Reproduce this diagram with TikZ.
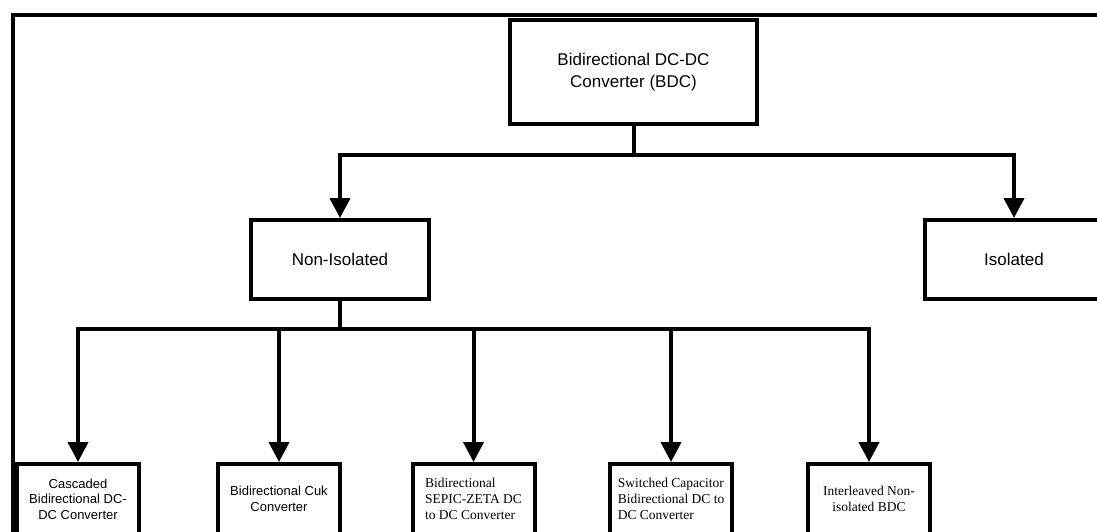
\documentclass[tikz,border=0pt]{standalone}
\usepackage{fontspec}
\setmainfont{Liberation Serif}
\setsansfont{Liberation Sans}
\usetikzlibrary{arrows.meta}

\tikzset{
  box/.style={draw,line width=4pt,inner sep=0pt,align=center,fill=white},
  bigbox/.style={box,minimum width=178pt,minimum height=79pt,font=\sffamily\fontsize{17}{22}\selectfont},
  smallbox/.style={box,minimum width=122pt,minimum height=70pt},
  sanstext/.style={font=\sffamily\fontsize{13}{15.5}\selectfont},
  seriftext/.style={font=\rmfamily\fontsize{13.5}{16}\selectfont,align=left},
  link/.style={line width=4pt},
  arr/.style={link,-{Triangle[width=20pt,length=20pt]}}
}

\begin{document}
\begin{tikzpicture}[x=1pt,y=-1pt]
    \useasboundingbox (0,0) rectangle (1097,531);
    \clip (0,0) rectangle (1097,531);
    \fill[white] (0,0) rectangle (1097,531);
    \draw[link] (12.5,545) -- (12.5,14.7) -- (1110,14.7);

    \node[box,minimum width=247pt,minimum height=104pt,font=\sffamily\fontsize{17}{22}\selectfont] (bdc) at (633.5,72) {Bidirectional DC-DC\\Converter (BDC)};
    \node[bigbox] (noniso) at (340,259.5) {Non-Isolated};
    \node[bigbox] (iso) at (1014,259.5) {Isolated};

    \node[smallbox,sanstext] (casc) at (78,499) {Cascaded\\Bidirectional DC-\\DC Converter};
    \node[smallbox,sanstext] (cuk) at (279,499) {Bidirectional Cuk\\Converter};
    \node[smallbox,seriftext] (sepic) at (473.5,499) {Bidirectional\\SEPIC-ZETA DC\\to DC Converter};
    \node[smallbox,seriftext] (swcap) at (671,499) {Switched Capacitor\\Bidirectional DC to\\DC Converter};
    \node[smallbox,seriftext,align=center] (inter) at (869,499) {Interleaved Non-\\isolated BDC};

    \path (bdc.south) ++(0,29) coordinate (topbus);
    \path (noniso.south) ++(0,28) coordinate (lowbus);

    \draw[link] (bdc.south) -- (topbus);
    \draw[arr] (topbus) -| (noniso.north);
    \draw[arr] (topbus) -| (iso.north);

    \draw[link] (noniso.south) -- (lowbus);
    \foreach \n in {casc,cuk,sepic,swcap,inter}
        \draw[arr] (lowbus) -| (\n.north);
\end{tikzpicture}
\end{document}
